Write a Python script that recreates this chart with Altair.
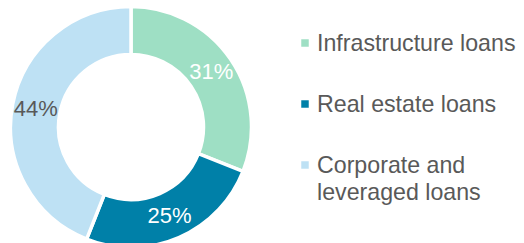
import altair as alt
import pandas as pd

categories = ["Infrastructure loans", "Real estate loans", "Corporate and leveraged loans"]
legend_labels = ["Infrastructure loans", "Real estate loans", "Corporate and\nleveraged loans"]
values = [31, 25, 44]
colors = ["#9EDFC4", "#0080A8", "#BEE1F4"]

df = pd.DataFrame({
    "category": categories,
    "legend": legend_labels,
    "value": values,
    "idx": list(range(len(categories))),
})
df["label"] = df["value"].astype(str) + "%"

CX, CY = 123, 119
FONT = "Liberation Sans"

base = alt.Chart(df)

arcs = base.mark_arc(innerRadius=72.5, outerRadius=120.5, stroke="white", strokeWidth=3.5).encode(
    theta=alt.Theta("value:Q", stack=True),
    color=alt.Color("category:N", scale=alt.Scale(domain=categories, range=colors), legend=None),
    order=alt.Order("idx:Q"),
    x=alt.value(CX),
    y=alt.value(CY),
)

labels = base.mark_text(font=FONT, fontSize=22, baseline="middle", align="center").encode(
    theta=alt.Theta("value:Q", stack=True),
    radius=alt.value(97),
    text="label:N",
    order=alt.Order("idx:Q"),
    color=alt.condition("datum.idx == 2", alt.value("#595959"), alt.value("white")),
    x=alt.value(CX),
    y=alt.value(CY),
)

ypos = alt.Y("idx:Q", scale=alt.Scale(domain=[0, 2], range=[35, 157]), axis=None)

leg_sq = base.mark_square(size=56, opacity=1).encode(
    x=alt.value(297),
    y=ypos,
    color=alt.Color("category:N", scale=alt.Scale(domain=categories, range=colors), legend=None),
)

leg_txt = base.mark_text(font=FONT, fontSize=23.2, align="left", baseline="alphabetic",
                         lineBreak="\n", lineHeight=27, color="#595959", dy=8).encode(
    x=alt.value(309),
    y=ypos,
    text="legend:N",
)

chart = alt.layer(arcs, labels, leg_sq, leg_txt).properties(
    width=508, height=235, padding=0, autosize=alt.AutoSizeParams(type="none")
).configure_view(stroke=None)

chart.save("out.html", embed_options={"renderer": "svg", "actions": False})
